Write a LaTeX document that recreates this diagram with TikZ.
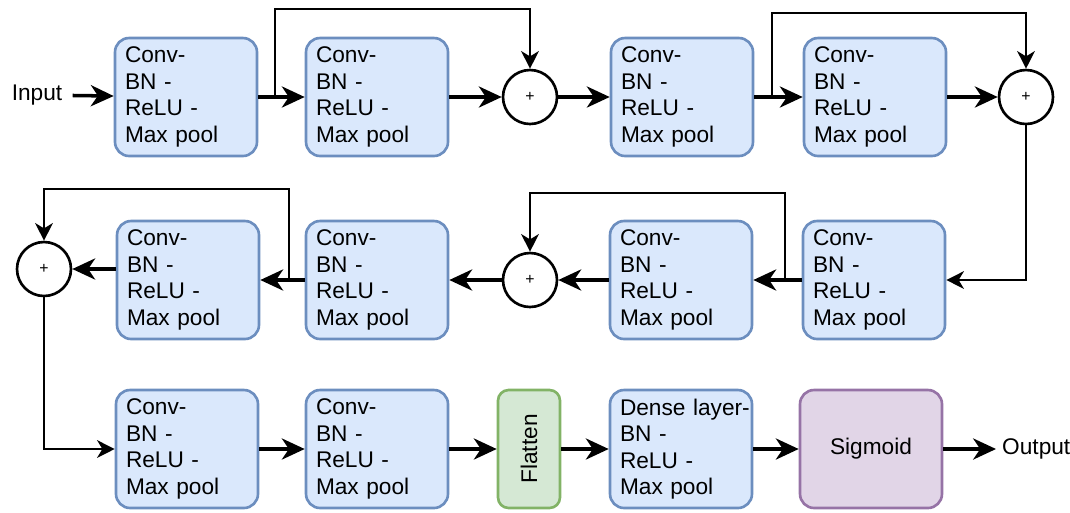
\documentclass[tikz,border=0pt]{standalone}
\usepackage{fontspec}
\setmainfont{Liberation Sans}
\usepackage{tikz}
\usetikzlibrary{arrows.meta}

\definecolor{convfill}{HTML}{DAE8FC}
\definecolor{convline}{HTML}{6C8EBF}
\definecolor{flatfill}{HTML}{D5E8D4}
\definecolor{flatline}{HTML}{82B366}
\definecolor{sigfill}{HTML}{E1D5E7}
\definecolor{sigline}{HTML}{9673A6}

\begin{document}
\begin{tikzpicture}[x=0.02cm,y=-0.02cm,
    font=\fontsize{12.9}{15.1}\selectfont,
    convblock/.style={draw=convline,fill=convfill,line width=1.5pt,rounded corners=8pt,
        minimum width=2.84cm,minimum height=2.36cm,inner xsep=0.2cm,inner ysep=0pt,
        text width=2.44cm,align=left},
    addop/.style={circle,draw,line width=1.5pt,minimum size=1.08cm,inner sep=0pt,
        font=\fontsize{9}{10}\selectfont},
    flow/.style={-{Stealth[length=13pt,width=12pt,inset=4pt]},line width=2pt},
    skip/.style={-{Stealth[length=10pt,width=10pt,inset=3pt]},line width=1.4pt}]
    \useasboundingbox (0,0) rectangle (1070,512);

    \foreach \n/\x/\y in {b1/186/97,b2/377/97,b3/682/97,b4/875/97,
                          b5/874/280,b6/681/280,b7/377/280,b8/188/280,
                          b9/187/449,b10/377/449} {
        \node[convblock] (\n) at (\x,\y) {Conv-\\BN -\\ReLU -\\Max pool};
    }
    \node[convblock] (dense) at (681,449) {\rlap{Dense layer-}\\BN -\\ReLU -\\Max pool};
    \node[draw=flatline,fill=flatfill,line width=1.5pt,rounded corners=6pt,
        minimum width=1.24cm,minimum height=2.36cm,inner sep=0pt] (flat) at (529,449)
        {\rotatebox{90}{Flatten}};
    \node[draw=sigline,fill=sigfill,line width=1.5pt,rounded corners=8pt,
        minimum width=2.84cm,minimum height=2.36cm] (sig) at (871,449) {Sigmoid};

    \node[addop] (c1) at (530,97) {+};
    \node[addop] (c2) at (1026,97) {+};
    \node[addop] (c3) at (530,280) {+};
    \node[addop] (c4) at (44,269) {+};

    \node[inner xsep=0.2cm] (in) at (37,95) {Input};
    \node[anchor=west] (out) at (996,449) {Output};

    % main path
    \draw[flow] (in) -- (b1);
    \draw[flow] (b1) -- (b2);
    \draw[flow] (b2) -- (c1);
    \draw[flow] (c1) -- (b3);
    \draw[flow] (b3) -- (b4);
    \draw[flow] (b4) -- (c2);
    \draw[flow] (b5) -- (b6);
    \draw[flow] (b6) -- (c3);
    \draw[flow] (c3) -- (b7);
    \draw[flow] (b7) -- (b8);
    \draw[flow] (b8.west |- c4) -- (c4);
    \draw[flow] (b9) -- (b10);
    \draw[flow] (b10) -- (flat);
    \draw[flow] (flat) -- (dense);
    \draw[flow] (dense) -- (sig);
    \draw[flow] (sig) -- (out);

    % residual branches
    \coordinate (s1) at (275,97);
    \coordinate (s2) at (772,97);
    \coordinate (s3) at (785,280);
    \coordinate (s4) at (289,280);
    \draw[skip] (s1) -- ++(0,-88) -| (c1);
    \draw[skip] (s2) -- ++(0,-84) -| (c2);
    \draw[skip] (s3) -- ++(0,-87) -| (c3);
    \draw[skip] (s4) -- ++(0,-91) -| (c4);
    \draw[skip] (c2) |- (b5);
    \draw[skip] (c4) |- (b9);
\end{tikzpicture}
\end{document}
